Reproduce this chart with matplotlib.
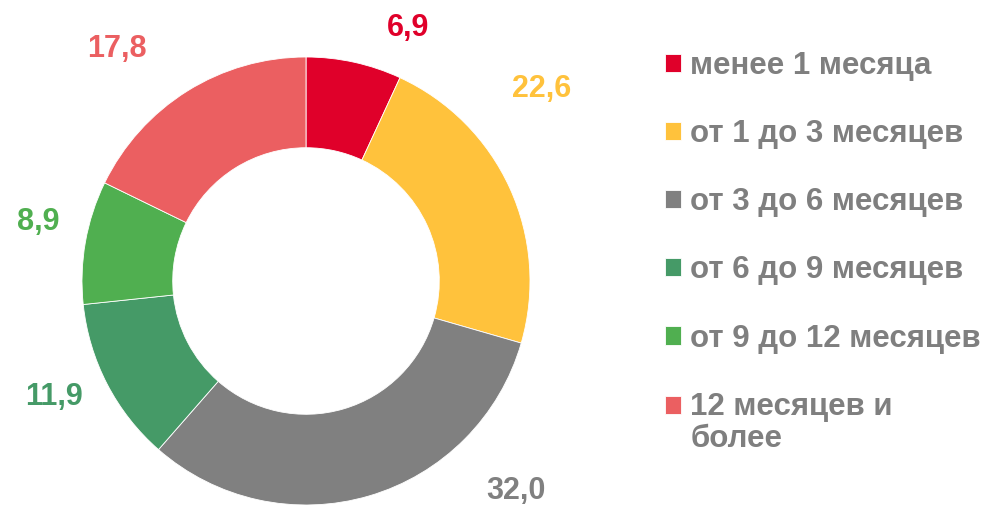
import matplotlib
matplotlib.use("Agg")
import matplotlib.pyplot as plt

categories = ["менее 1 месяца", "от 1 до 3 месяцев", "от 3 до 6 месяцев",
              "от 6 до 9 месяцев", "от 9 до 12 месяцев", "12 месяцев и\nболее"]
values = [6.9, 22.6, 32.0, 11.9, 8.9, 17.8]
value_labels = ["6,9", "22,6", "32,0", "11,9", "8,9", "17,8"]
colors = ["#E0002A", "#FFC23C", "#808080", "#459A67", "#50AF50", "#EB5F61"]
# label anchor positions in pixels (x, baseline y)
label_pos = [(408, 36), (542, 97), (516, 499), (54, 405), (38, 230), (117, 57)]

plt.rcParams['font.family'] = ['Liberation Sans', 'DejaVu Sans']
W, H = 989, 505
fig = plt.figure(figsize=(W / 100, H / 100), dpi=100)
cx, cy, R = 306, 281, 224
ax = fig.add_axes([(cx - R) / W, (H - cy - R) / H, 2 * R / W, 2 * R / H])
wedges, _ = ax.pie(values, colors=colors, startangle=90, counterclock=False,
                   radius=1.0, wedgeprops=dict(width=0.405, edgecolor='white', linewidth=0.6))
ax.set_xlim(-1, 1)
ax.set_ylim(-1, 1)
ax.set_aspect('equal')
ax.axis('off')

for lab, (px, py), c in zip(value_labels, label_pos, colors):
    fig.text(px / W, 1 - py / H, lab, color=c, fontsize=22, fontweight='bold',
             ha='center', va='baseline')

leg = fig.legend(wedges, categories, loc='upper left',
                 bbox_to_anchor=(665 / W, 1 - 51 / H), frameon=False,
                 prop=dict(size=22.5, weight='bold'), labelcolor='#7F7F7F',
                 handlelength=0.52, handleheight=0.52, handletextpad=0.29,
                 labelspacing=1.22, borderpad=0, borderaxespad=0)
for t in leg.get_texts():
    t.set_linespacing(1.12)
last = leg.legend_handles[-1]
last.set_y(last.get_y() + 13.5)

fig.savefig("out.png", dpi=100)
